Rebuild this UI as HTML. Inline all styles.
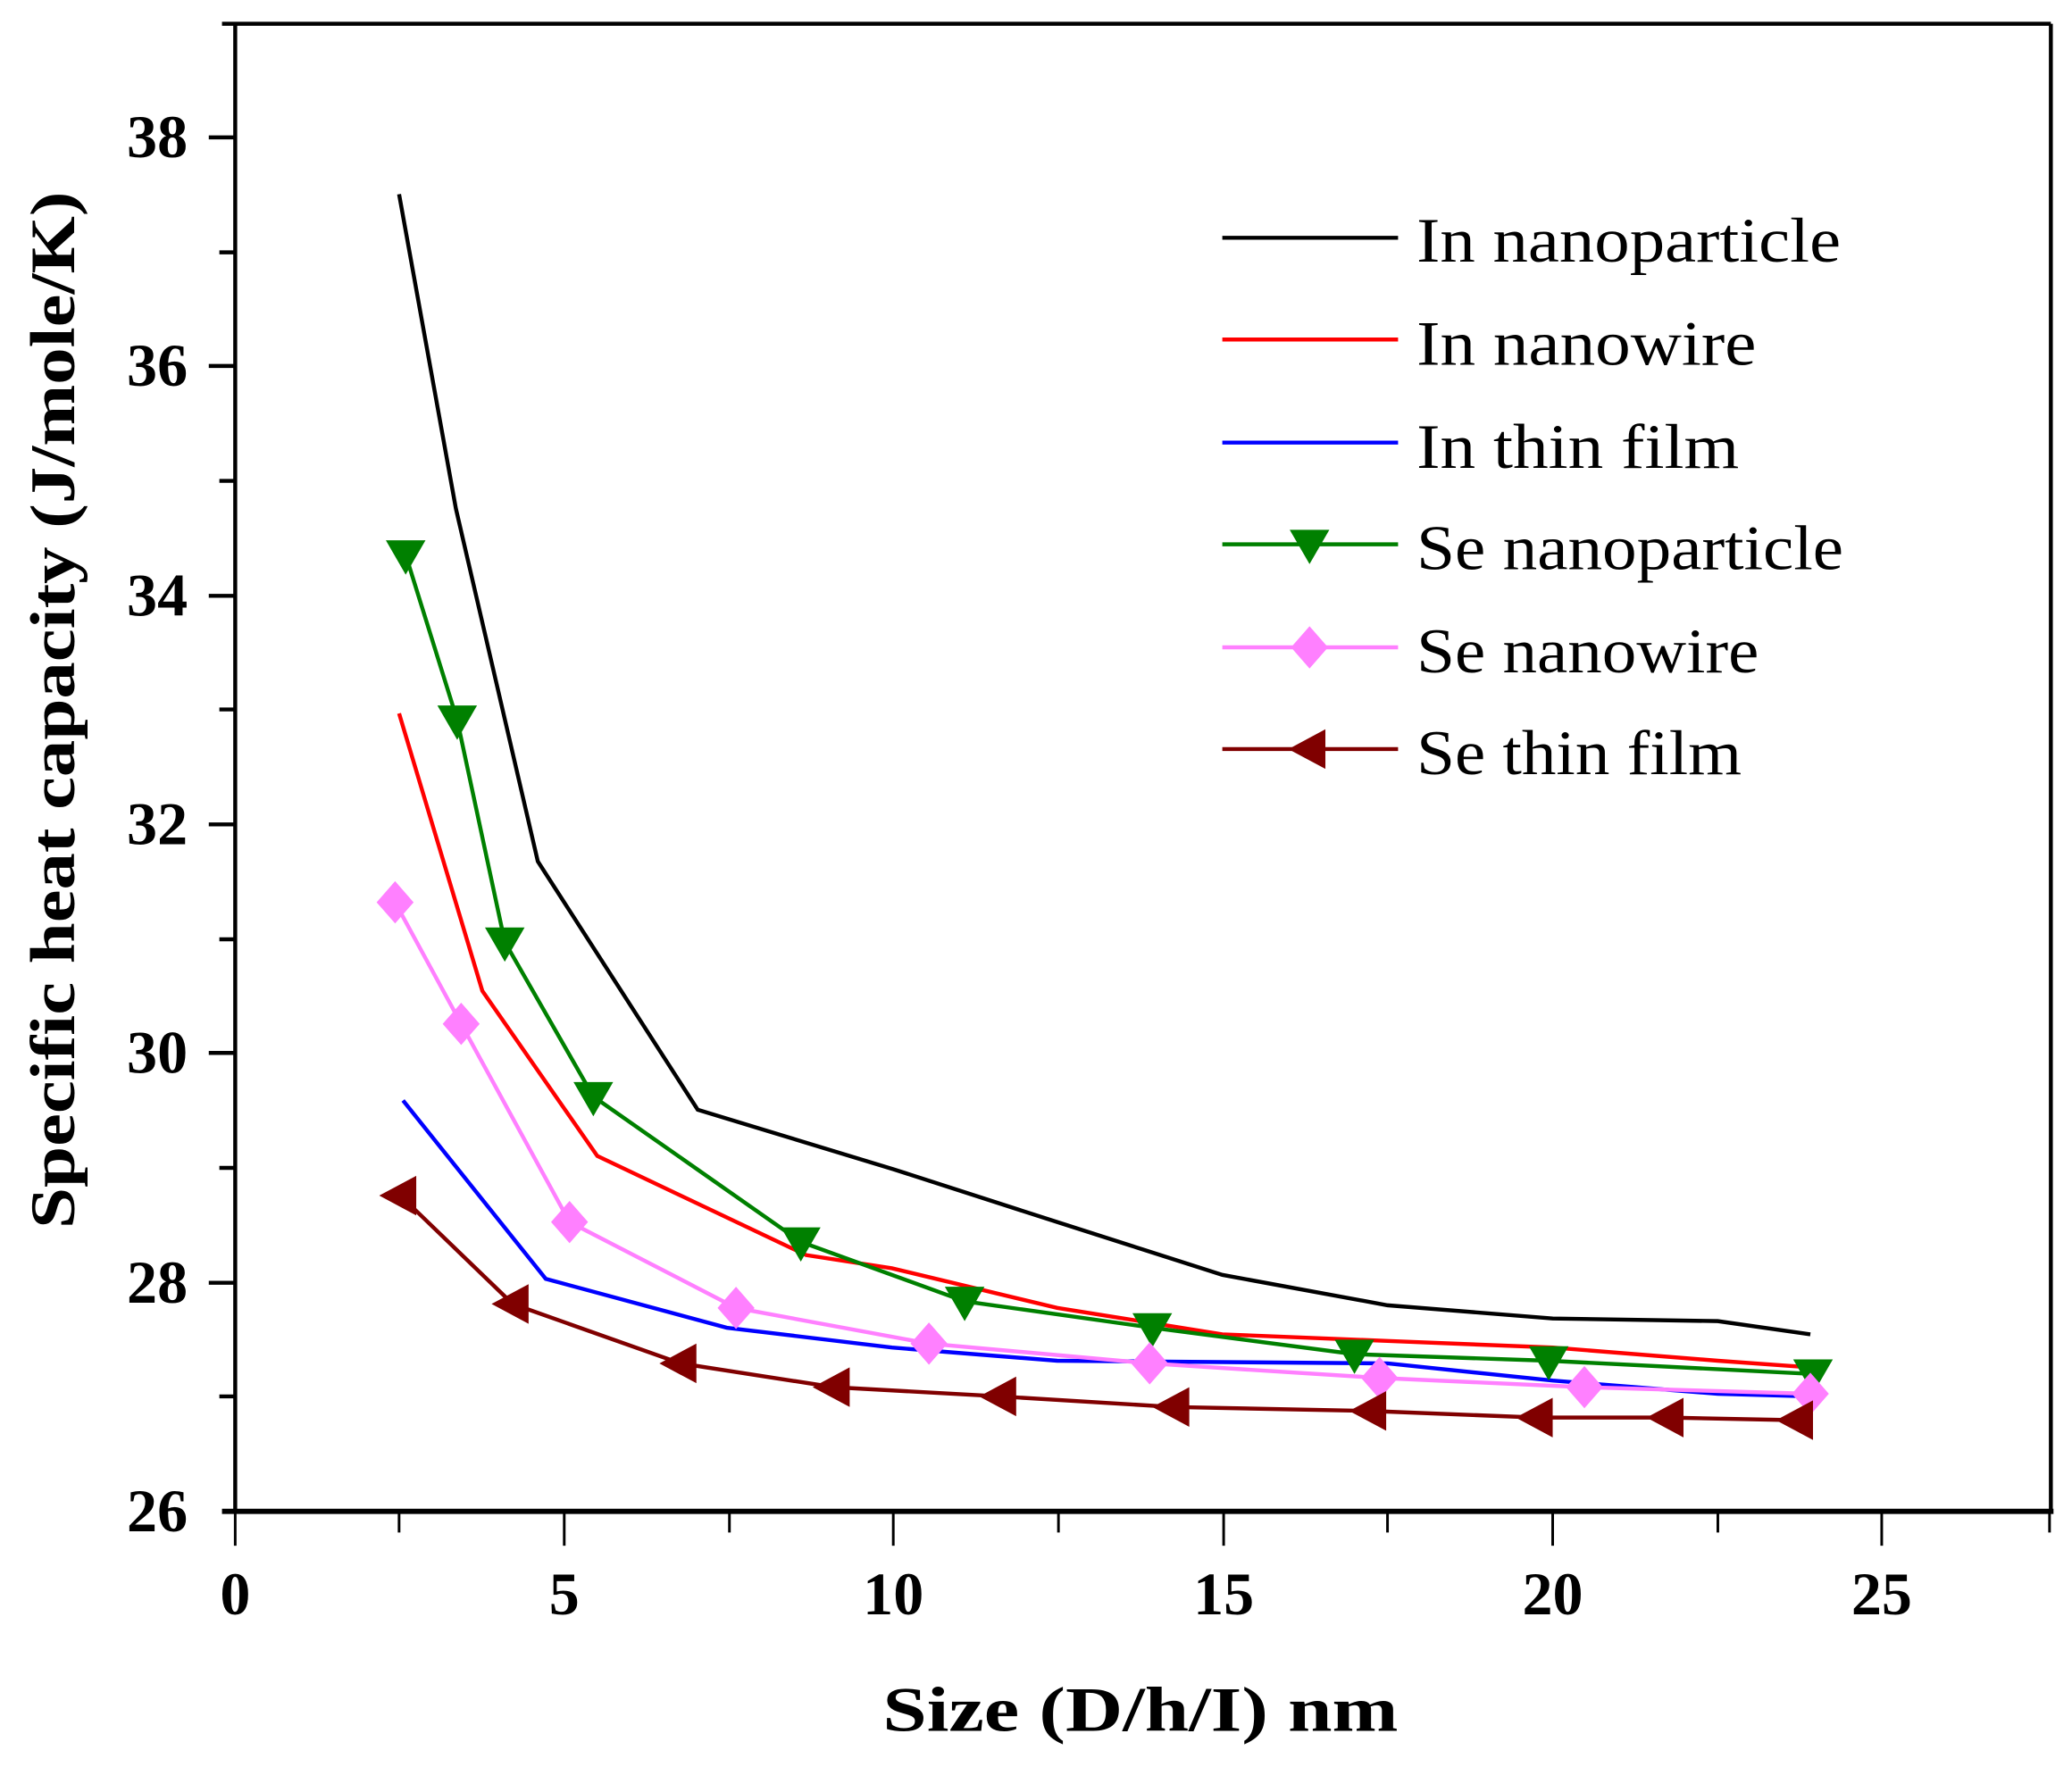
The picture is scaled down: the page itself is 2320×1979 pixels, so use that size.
<!DOCTYPE html>
<html><head><style>html,body{margin:0;padding:0;background:#fff;}svg{display:block}</style></head>
<body>
<svg width="2320" height="1979" viewBox="0 0 1568 1337.5" preserveAspectRatio="none" xmlns="http://www.w3.org/2000/svg" font-family="'Liberation Serif', serif">
<defs>
<path id="tri" d="M-15,-11 L15,-11 L0,15 Z"/>
<path id="dia" d="M0,-16 L14,0 L0,16 L-14,0 Z"/>
<path id="ltri" d="M-16,0 L12,-15 L12,15 Z"/>
</defs>
<g stroke="#000" fill="none">
<line x1="168" y1="18" x2="1552" y2="18" stroke-width="3"/>
<line x1="178" y1="18" x2="178" y2="1144" stroke-width="3"/>
<line x1="1552" y1="18" x2="1552" y2="1144" stroke-width="3"/>
<line x1="168" y1="1144" x2="1554" y2="1144" stroke-width="4"/>
<g stroke-width="3">
<line x1="158" y1="104" x2="178" y2="104"/><line x1="158" y1="277" x2="178" y2="277"/><line x1="158" y1="451" x2="178" y2="451"/><line x1="158" y1="624" x2="178" y2="624"/><line x1="158" y1="797" x2="178" y2="797"/><line x1="158" y1="971" x2="178" y2="971"/>
<line x1="166" y1="191" x2="178" y2="191"/><line x1="166" y1="364" x2="178" y2="364"/><line x1="166" y1="537" x2="178" y2="537"/><line x1="166" y1="711" x2="178" y2="711"/><line x1="166" y1="884" x2="178" y2="884"/><line x1="166" y1="1057" x2="178" y2="1057"/>
</g>
<g stroke-width="2">
<line x1="178" y1="1144" x2="178" y2="1170"/><line x1="427" y1="1144" x2="427" y2="1170"/><line x1="676" y1="1144" x2="676" y2="1170"/><line x1="926" y1="1144" x2="926" y2="1170"/><line x1="1175" y1="1144" x2="1175" y2="1170"/><line x1="1424" y1="1144" x2="1424" y2="1170"/>
<line x1="302" y1="1144" x2="302" y2="1160"/><line x1="552" y1="1144" x2="552" y2="1160"/><line x1="801" y1="1144" x2="801" y2="1160"/><line x1="1050" y1="1144" x2="1050" y2="1160"/><line x1="1300" y1="1144" x2="1300" y2="1160"/><line x1="1551" y1="1144" x2="1551" y2="1160"/>
</g>
</g>
<g font-size="46" font-weight="bold" text-anchor="end" fill="#000">
<text x="142" y="119">38</text><text x="142" y="292">36</text><text x="142" y="466">34</text><text x="142" y="639">32</text><text x="142" y="812">30</text><text x="142" y="986">28</text><text x="142" y="1159">26</text>
</g>
<g font-size="46" font-weight="bold" text-anchor="middle">
<text x="178" y="1222">0</text><text x="427" y="1222">5</text><text x="676" y="1222">10</text><text x="926" y="1222">15</text><text x="1175" y="1222">20</text><text x="1424" y="1222">25</text>
</g>
<text x="668" y="1310" font-size="48" font-weight="bold" textLength="390" lengthAdjust="spacingAndGlyphs">Size (D/h/I) nm</text>
<text transform="translate(56,930) rotate(-90)" font-size="48" font-weight="bold" textLength="785" lengthAdjust="spacingAndGlyphs">Specific heat capacity (J/mole/K)</text>
<g fill="none" stroke-width="3">
<polyline stroke="#000" points="302,147 345,385 407,652 528,840 676,885 800,925 925,965 1050,988 1175,998 1300,1000 1370,1010"/>
<polyline stroke="#ff0000" points="302,540 365,750 452,875 610,950 675,960 800,990 925,1010 1050,1015 1175,1020 1300,1030 1370,1035"/>
<polyline stroke="#0000ff" points="305,833 413,968 550,1005 675,1020 800,1030 1050,1032 1175,1045 1300,1055 1370,1057"/>
<polyline stroke="#008000" points="307,420 346,545 382,713 449,830 606,940 730,985 872,1005 1025,1025 1172,1030 1372,1040"/>
<polyline stroke="#ff80ff" points="299,683 349,775 431,925 557,990 703,1017 870,1032 1044,1043 1199,1050 1370,1055"/>
<polyline stroke="#800000" points="303,905 388,987 515,1032 631,1050 757,1057 888,1065 1037,1068 1163,1073 1262,1073 1360,1075"/>
</g>
<g fill="#008000">
<use href="#tri" x="307" y="420"/><use href="#tri" x="346" y="545"/><use href="#tri" x="382" y="713"/><use href="#tri" x="449" y="830"/><use href="#tri" x="606" y="940"/><use href="#tri" x="730" y="985"/><use href="#tri" x="872" y="1005"/><use href="#tri" x="1025" y="1025"/><use href="#tri" x="1172" y="1030"/><use href="#tri" x="1372" y="1040"/>
</g>
<g fill="#ff80ff">
<use href="#dia" x="299" y="683"/><use href="#dia" x="349" y="775"/><use href="#dia" x="431" y="925"/><use href="#dia" x="557" y="990"/><use href="#dia" x="703" y="1017"/><use href="#dia" x="870" y="1032"/><use href="#dia" x="1044" y="1043"/><use href="#dia" x="1199" y="1050"/><use href="#dia" x="1370" y="1055"/>
</g>
<g fill="#800000">
<use href="#ltri" x="303" y="905"/><use href="#ltri" x="388" y="987"/><use href="#ltri" x="515" y="1032"/><use href="#ltri" x="631" y="1050"/><use href="#ltri" x="757" y="1057"/><use href="#ltri" x="888" y="1065"/><use href="#ltri" x="1037" y="1068"/><use href="#ltri" x="1163" y="1073"/><use href="#ltri" x="1262" y="1073"/><use href="#ltri" x="1360" y="1075"/>
</g>
<g stroke-width="3">
<line x1="925" y1="180" x2="1058" y2="180" stroke="#000"/>
<line x1="925" y1="257" x2="1058" y2="257" stroke="#ff0000"/>
<line x1="925" y1="335" x2="1058" y2="335" stroke="#0000ff"/>
<line x1="925" y1="412" x2="1058" y2="412" stroke="#008000"/>
<line x1="925" y1="490" x2="1058" y2="490" stroke="#ff80ff"/>
<line x1="925" y1="567" x2="1058" y2="567" stroke="#800000"/>
</g>
<use href="#tri" x="991" y="412" fill="#008000"/>
<use href="#dia" x="991" y="490" fill="#ff80ff"/>
<use href="#ltri" x="991" y="567" fill="#800000"/>
<g font-size="48" lengthAdjust="spacingAndGlyphs">
<text x="1072" y="198" textLength="321" lengthAdjust="spacingAndGlyphs">In nanoparticle</text>
<text x="1072" y="276" textLength="257" lengthAdjust="spacingAndGlyphs">In nanowire</text>
<text x="1072" y="354" textLength="244" lengthAdjust="spacingAndGlyphs">In thin film</text>
<text x="1072" y="431" textLength="323" lengthAdjust="spacingAndGlyphs">Se nanoparticle</text>
<text x="1072" y="509" textLength="259" lengthAdjust="spacingAndGlyphs">Se nanowire</text>
<text x="1072" y="586" textLength="246" lengthAdjust="spacingAndGlyphs">Se thin film</text>
</g>
</svg>
</body></html>
